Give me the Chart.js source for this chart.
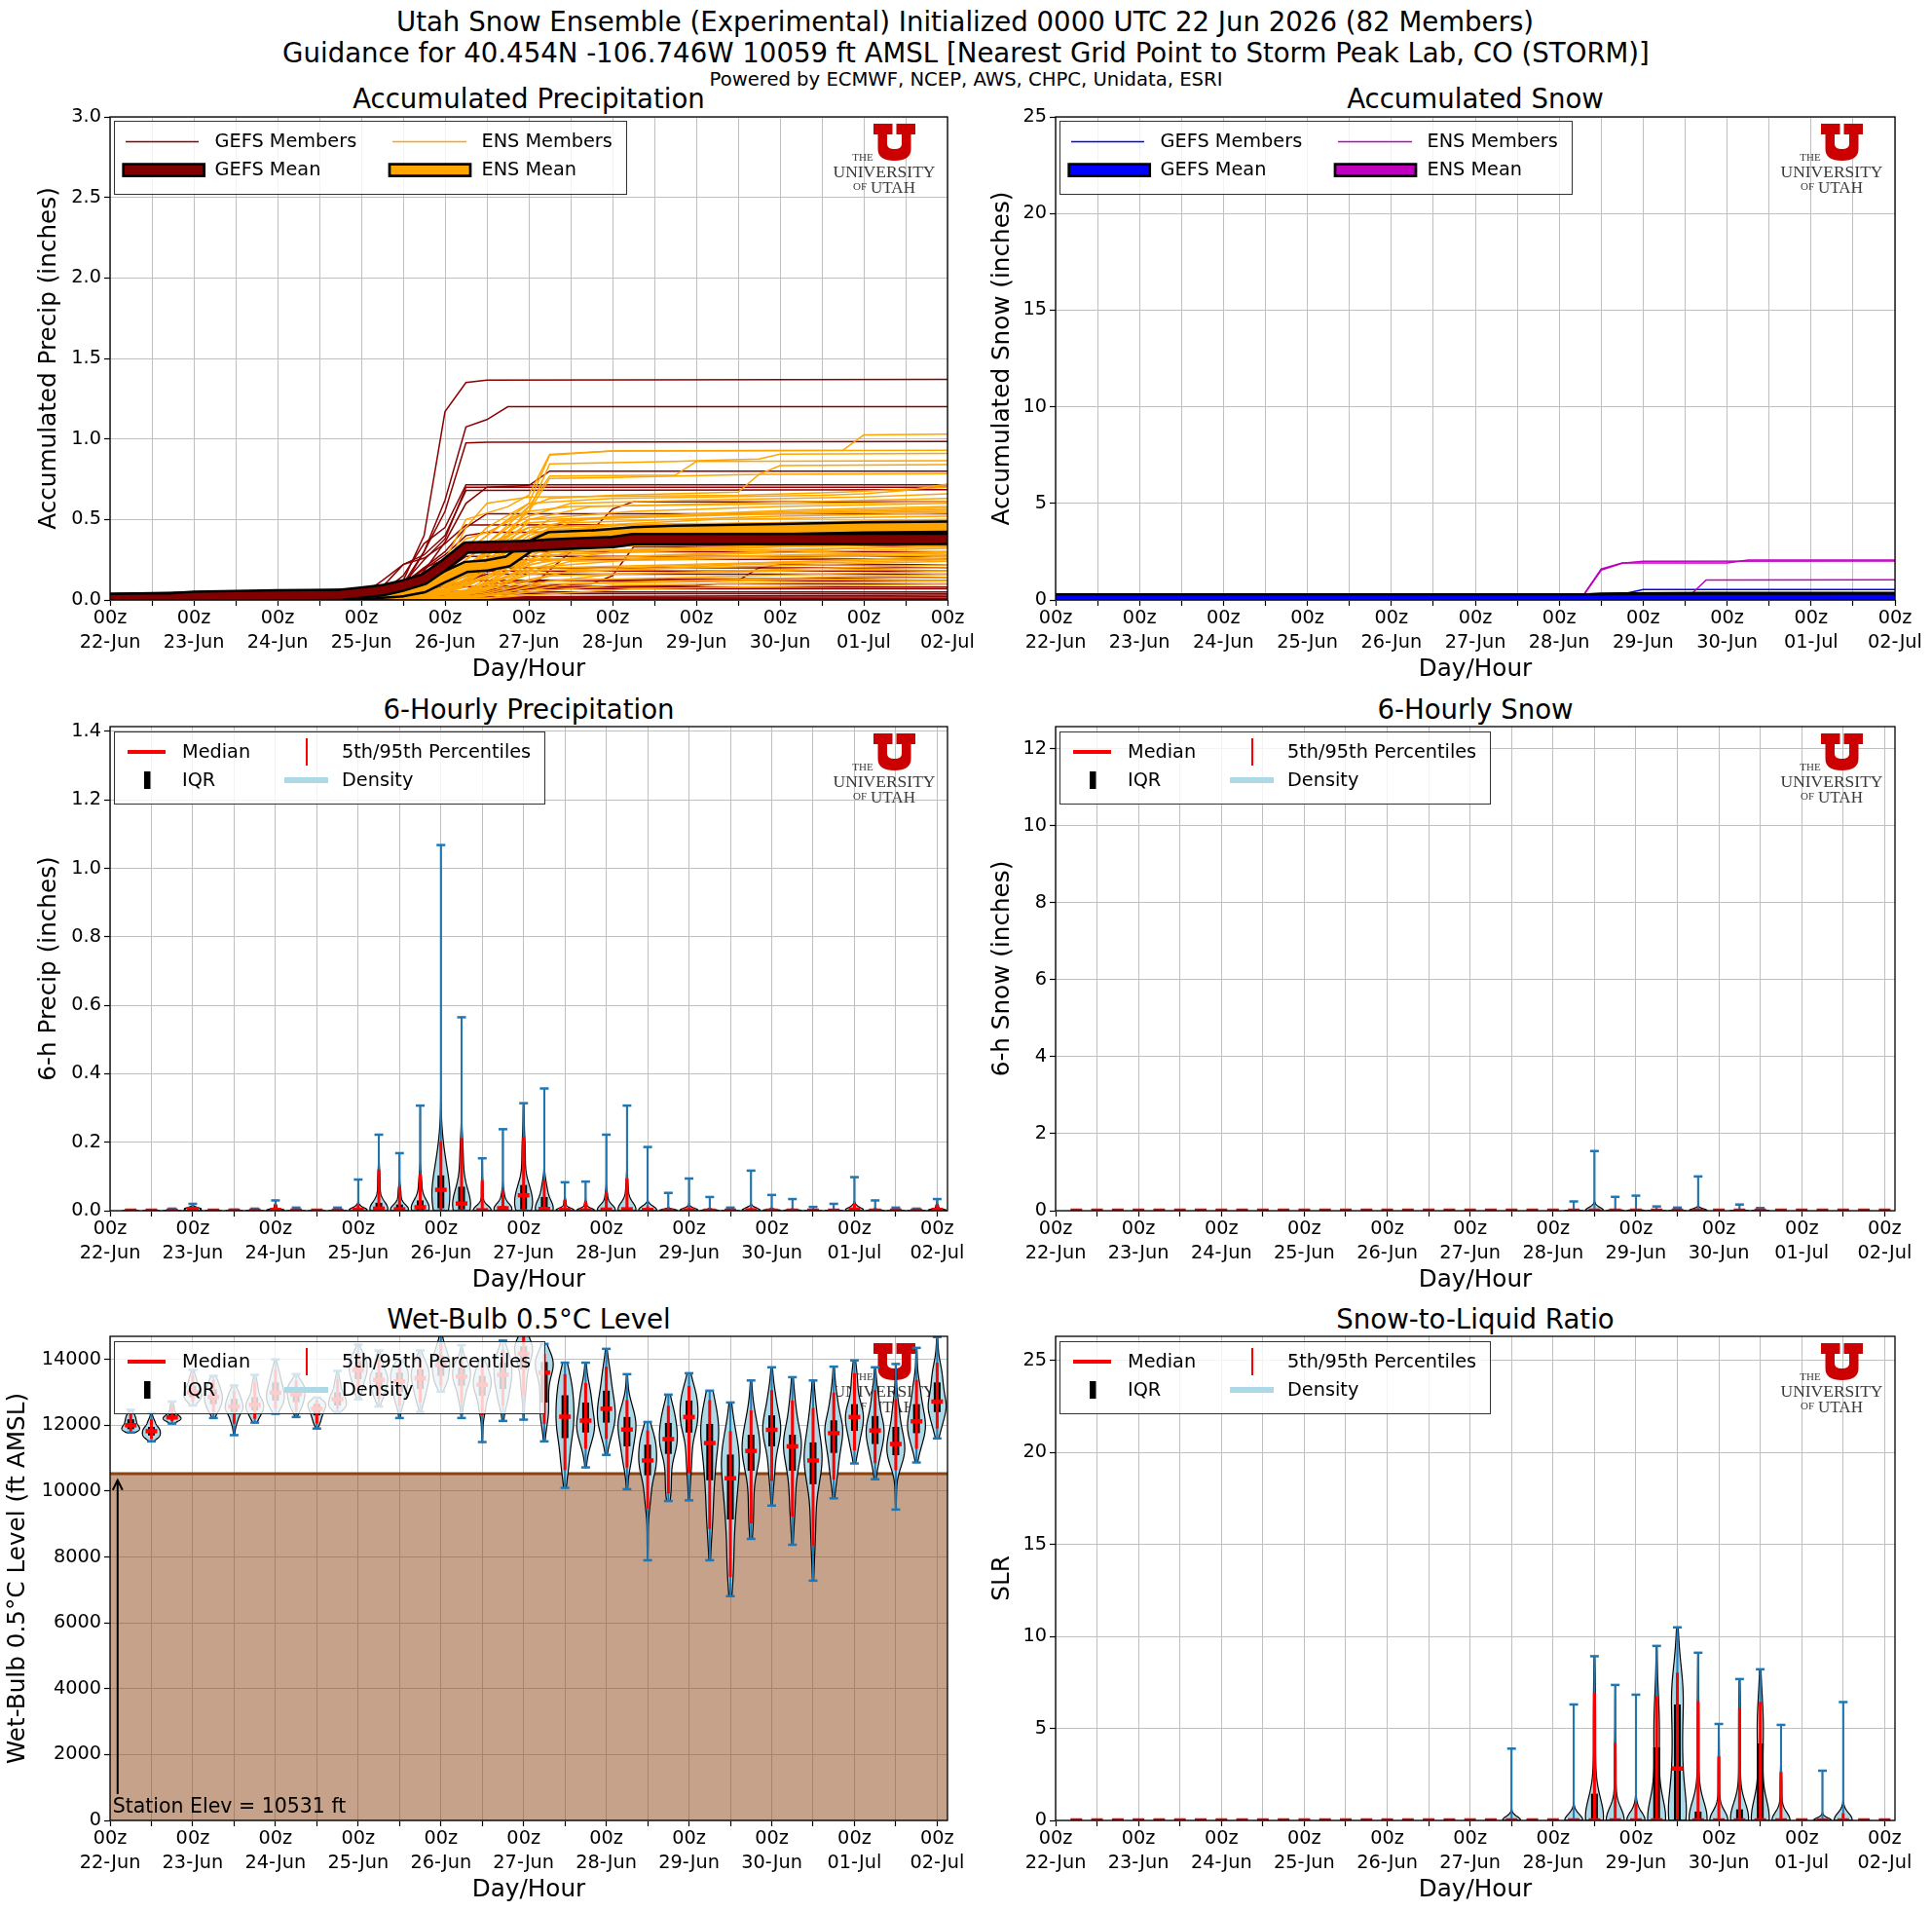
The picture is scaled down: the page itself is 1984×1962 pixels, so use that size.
<!DOCTYPE html>
<html>
<head>
<meta charset="utf-8">
<script src="https://cdn.jsdelivr.net/npm/chart.js"></script>
<style>
body { margin: 0; background: #fff; width: 1984px; height: 1962px; position: relative; overflow: hidden; font-family: 'DejaVu Sans', sans-serif; }
canvas { position: absolute; }
.t { position: absolute; transform: translate(-50%, -50%); white-space: nowrap; color: #000; line-height: 1; }
</style>
</head>
<body>
<div class="t" style="left:991px;top:23px;font-size:27.6px">Utah Snow Ensemble (Experimental) Initialized 0000 UTC 22 Jun 2026 (82 Members)</div>
<div class="t" style="left:992px;top:55px;font-size:27.6px">Guidance for 40.454N -106.746W 10059 ft AMSL [Nearest Grid Point to Storm Peak Lab, CO (STORM)]</div>
<div class="t" style="left:992px;top:82px;font-size:19.6px">Powered by ECMWF, NCEP, AWS, CHPC, Unidata, ESRI</div>
<div class="t" style="left:543px;top:102px;font-size:27.6px">Accumulated Precipitation</div>
<div class="t" style="left:1515px;top:102px;font-size:27.6px">Accumulated Snow</div>
<div class="t" style="left:543px;top:729px;font-size:27.6px">6-Hourly Precipitation</div>
<div class="t" style="left:1515px;top:729px;font-size:27.6px">6-Hourly Snow</div>
<div class="t" style="left:543px;top:1355px;font-size:27.6px">Wet-Bulb 0.5°C Level</div>
<div class="t" style="left:1515px;top:1355px;font-size:27.6px">Snow-to-Liquid Ratio</div>
<script>
var FONT = "'DejaVu Sans', sans-serif";

// x axis: forecast hour from 00z 22-Jun
var hourTicks = [0, 12, 24, 36, 48, 60, 72, 84, 96, 108, 120, 132, 144, 156, 168, 180, 192, 204, 216, 228, 240];
var dayLabels = ['22-Jun', '23-Jun', '24-Jun', '25-Jun', '26-Jun', '27-Jun', '28-Jun', '29-Jun', '30-Jun', '01-Jul', '02-Jul'];
var violinHours = [6, 12, 18, 24, 30, 36, 42, 48, 54, 60, 66, 72, 78, 84, 90, 96, 102, 108, 114, 120,
    126, 132, 138, 144, 150, 156, 162, 168, 174, 180, 186, 192, 198, 204, 210, 216, 222, 228, 234, 240];

// y ticks
var accPrecipTicks = [0, 0.5, 1, 1.5, 2, 2.5, 3];
var accSnowTicks = [0, 5, 10, 15, 20, 25];
var precip6Ticks = [0, 0.2, 0.4, 0.6, 0.8, 1.0, 1.2, 1.4];
var snow6Ticks = [0, 2, 4, 6, 8, 10, 12];
var wetBulbTicks = [0, 2000, 4000, 6000, 8000, 10000, 12000, 14000];
var slrTicks = [0, 5, 10, 15, 20, 25];

var memberCount = 82;
var stationElev = 10531;

// accumulated precip members, [hour, inches]
var gefsPrecipMembers = [
    [[0,0.03],[72,0.03],[78,0.05],[84,0.12],[90,0.4],[96,1.17],[102,1.35],[108,1.365],[240,1.37]],
    [[0,0.03],[72,0.03],[84,0.08],[90,0.3],[96,0.62],[102,1.075],[108,1.12],[114,1.2],[240,1.2]],
    [[0,0.03],[72,0.03],[84,0.1],[90,0.3],[96,0.55],[102,0.975],[108,0.98],[240,0.985]],
    [[0,0.03],[72,0.03],[78,0.05],[84,0.15],[90,0.35],[96,0.45],[102,0.715],[240,0.715]],
    [[0,0.02],[72,0.02],[78,0.04],[84,0.1],[90,0.25],[96,0.38],[102,0.7],[240,0.7]],
    [[0,0.03],[72,0.03],[78,0.08],[84,0.22],[90,0.28],[96,0.4],[102,0.68],[240,0.685]],
    [[0,0.02],[72,0.02],[84,0.06],[90,0.18],[96,0.36],[102,0.6],[108,0.7],[120,0.71],[126,0.8],[240,0.8]],
    [[0,0.03],[72,0.03],[84,0.1],[90,0.2],[96,0.3],[102,0.45],[108,0.536],[240,0.536]],
    [[0,0.02],[72,0.02],[96,0.05],[120,0.07],[132,0.3],[138,0.43],[144,0.565],[150,0.61],[240,0.61]],
    [[0,0.03],[72,0.03],[78,0.12],[84,0.22],[90,0.26],[96,0.35],[102,0.466],[240,0.47]],
    [[0,0.03],[72,0.03],[78,0.06],[84,0.1],[96,0.28],[102,0.4],[108,0.42],[240,0.42]],
    [[0,0.02],[72,0.02],[96,0.08],[126,0.09],[138,0.1],[144,0.15],[150,0.33],[240,0.34]],
    [[0,0.02],[72,0.02],[84,0.05],[90,0.12],[96,0.22],[102,0.3],[240,0.3]],
    [[0,0.02],[78,0.02],[90,0.05],[96,0.18],[102,0.27],[240,0.27]],
    [[0,0.03],[72,0.03],[84,0.05],[96,0.1],[108,0.2],[114,0.25],[240,0.255]],
    [[0,0.02],[78,0.02],[90,0.06],[102,0.12],[180,0.12],[186,0.2],[192,0.22],[240,0.22]],
    [[0,0.02],[78,0.02],[90,0.04],[102,0.15],[114,0.2],[240,0.2]],
    [[0,0.01],[78,0.01],[96,0.05],[102,0.1],[108,0.18],[240,0.18]],
    [[0,0.02],[78,0.02],[96,0.08],[108,0.16],[240,0.16]],
    [[0,0.02],[78,0.02],[96,0.06],[102,0.12],[240,0.14]],
    [[0,0.01],[84,0.01],[102,0.05],[108,0.1],[126,0.12],[240,0.12]],
    [[0,0.01],[84,0.01],[108,0.05],[120,0.08],[168,0.09],[174,0.1],[240,0.1]],
    [[0,0.01],[84,0.01],[102,0.04],[114,0.08],[240,0.08]],
    [[0,0.01],[84,0.01],[108,0.04],[120,0.07],[240,0.07]],
    [[0,0.01],[78,0.01],[96,0.03],[114,0.05],[240,0.05]],
    [[0,0.02],[84,0.02],[102,0.03],[120,0.04],[240,0.04]],
    [[0,0.01],[84,0.01],[108,0.02],[240,0.03]],
    [[0,0.005],[90,0.005],[120,0.015],[240,0.02]],
    [[0,0.005],[240,0.01]],
    [[0,0],[240,0.005]],
    [[0,0.03],[72,0.03],[84,0.09],[90,0.2],[96,0.25],[102,0.33],[114,0.35],[240,0.36]]
];
var ensPrecipMembers = [
    [[0,0.03],[72,0.03],[84,0.06],[96,0.25],[102,0.5],[114,0.58],[120,0.65],[126,0.905],[144,0.925],[210,0.93],[216,1.025],[240,1.03]],
    [[0,0.03],[72,0.03],[84,0.05],[96,0.2],[108,0.45],[120,0.6],[126,0.9],[144,0.925],[240,0.93]],
    [[0,0.02],[78,0.02],[90,0.08],[102,0.3],[114,0.5],[120,0.55],[126,0.845],[162,0.86],[168,0.865],[186,0.875],[192,0.905],[240,0.91]],
    [[0,0.03],[84,0.03],[96,0.15],[108,0.35],[120,0.58],[126,0.77],[162,0.775],[168,0.86],[240,0.865]],
    [[0,0.02],[84,0.02],[96,0.1],[108,0.3],[120,0.55],[126,0.755],[144,0.76],[162,0.77],[186,0.78],[192,0.835],[240,0.84]],
    [[0,0.03],[84,0.03],[96,0.12],[114,0.4],[120,0.58],[126,0.63],[144,0.65],[180,0.67],[186,0.78],[240,0.785]],
    [[0,0.02],[78,0.02],[90,0.1],[102,0.3],[108,0.4],[120,0.6],[144,0.63],[204,0.65],[216,0.66],[228,0.68],[240,0.72]],
    [[0,0.03],[84,0.03],[96,0.2],[102,0.45],[108,0.6],[120,0.64],[180,0.65],[210,0.67],[240,0.7]],
    [[0,0.02],[78,0.02],[90,0.05],[102,0.25],[114,0.45],[120,0.52],[132,0.6],[168,0.62],[216,0.64],[240,0.66]],
    [[0,0.02],[84,0.02],[96,0.1],[108,0.2],[114,0.35],[120,0.5],[138,0.58],[240,0.63]],
    [[0,0.03],[78,0.03],[90,0.12],[96,0.25],[102,0.38],[108,0.42],[120,0.55],[132,0.58],[240,0.61]],
    [[0,0.02],[84,0.02],[96,0.08],[102,0.18],[114,0.42],[120,0.5],[150,0.55],[192,0.58],[240,0.6]],
    [[0,0.02],[84,0.02],[96,0.06],[108,0.3],[120,0.48],[150,0.52],[198,0.56],[240,0.58]],
    [[0,0.02],[78,0.02],[90,0.08],[102,0.2],[114,0.35],[126,0.5],[180,0.54],[240,0.57]],
    [[0,0.02],[84,0.02],[96,0.1],[108,0.25],[120,0.42],[132,0.5],[216,0.55],[240,0.56]],
    [[0,0.03],[90,0.03],[102,0.15],[108,0.3],[120,0.45],[144,0.52],[240,0.55]],
    [[0,0.02],[84,0.02],[96,0.05],[108,0.22],[120,0.4],[132,0.48],[192,0.52],[240,0.54]],
    [[0,0.02],[90,0.02],[102,0.1],[114,0.28],[126,0.45],[174,0.5],[240,0.52]],
    [[0,0.02],[84,0.02],[96,0.08],[102,0.25],[108,0.35],[120,0.45],[240,0.5]],
    [[0,0.02],[84,0.02],[96,0.12],[108,0.28],[120,0.42],[150,0.47],[240,0.49]],
    [[0,0.03],[90,0.03],[102,0.2],[114,0.32],[126,0.44],[240,0.48]],
    [[0,0.02],[84,0.02],[96,0.05],[108,0.18],[120,0.38],[168,0.44],[240,0.47]],
    [[0,0.02],[90,0.02],[102,0.12],[114,0.3],[126,0.4],[204,0.44],[240,0.46]],
    [[0,0.02],[84,0.02],[96,0.1],[108,0.25],[120,0.35],[144,0.42],[240,0.45]],
    [[0,0.02],[90,0.02],[102,0.08],[114,0.22],[120,0.33],[156,0.4],[240,0.44]],
    [[0,0.02],[84,0.02],[96,0.06],[108,0.2],[126,0.36],[240,0.43]],
    [[0,0.02],[90,0.02],[102,0.15],[114,0.25],[132,0.36],[240,0.42]],
    [[0,0.03],[84,0.03],[96,0.1],[108,0.22],[120,0.3],[180,0.38],[240,0.41]],
    [[0,0.02],[90,0.02],[102,0.06],[114,0.2],[126,0.33],[240,0.4]],
    [[0,0.02],[84,0.02],[96,0.08],[108,0.18],[120,0.3],[168,0.36],[240,0.39]],
    [[0,0.02],[96,0.02],[108,0.1],[120,0.25],[132,0.33],[240,0.38]],
    [[0,0.02],[84,0.02],[96,0.04],[108,0.15],[126,0.3],[240,0.37]],
    [[0,0.02],[90,0.02],[102,0.1],[114,0.2],[132,0.3],[240,0.36]],
    [[0,0.02],[90,0.02],[102,0.05],[114,0.18],[126,0.28],[192,0.33],[240,0.35]],
    [[0,0.02],[84,0.02],[96,0.06],[108,0.15],[120,0.25],[240,0.34]],
    [[0,0.02],[96,0.02],[108,0.08],[120,0.22],[144,0.3],[240,0.33]],
    [[0,0.02],[90,0.02],[102,0.06],[114,0.15],[132,0.26],[240,0.32]],
    [[0,0.02],[84,0.02],[96,0.05],[114,0.18],[126,0.25],[240,0.3]],
    [[0,0.02],[96,0.02],[108,0.1],[120,0.2],[156,0.26],[240,0.29]],
    [[0,0.02],[90,0.02],[102,0.05],[114,0.14],[132,0.24],[240,0.28]],
    [[0,0.02],[96,0.02],[108,0.07],[120,0.18],[240,0.27]],
    [[0,0.01],[90,0.01],[102,0.04],[114,0.12],[126,0.2],[240,0.26]],
    [[0,0.02],[96,0.02],[108,0.06],[120,0.16],[180,0.22],[240,0.25]],
    [[0,0.01],[90,0.01],[102,0.03],[114,0.1],[132,0.18],[240,0.24]],
    [[0,0.02],[96,0.02],[108,0.05],[126,0.15],[240,0.22]],
    [[0,0.01],[96,0.01],[108,0.04],[120,0.1],[144,0.16],[240,0.2]],
    [[0,0.01],[102,0.01],[114,0.05],[126,0.12],[240,0.18]],
    [[0,0.01],[96,0.01],[108,0.03],[126,0.1],[240,0.16]],
    [[0,0.01],[102,0.01],[114,0.04],[132,0.1],[240,0.14]],
    [[0,0.01],[108,0.01],[120,0.05],[144,0.09],[240,0.12]],
    [[0,0.01],[108,0.01],[120,0.03],[150,0.07],[240,0.1]]
];
var gefsPrecipMean = [[0,0.006],[18,0.01],[24,0.02],[48,0.028],[66,0.032],[72,0.045],[78,0.06],[84,0.09],[90,0.13],[96,0.22],[102,0.325],[120,0.335],[126,0.345],[144,0.36],[150,0.378],[240,0.38]];
var ensPrecipMean = [[0,0.006],[24,0.015],[48,0.022],[72,0.035],[78,0.045],[84,0.055],[90,0.08],[96,0.145],[102,0.205],[108,0.215],[114,0.24],[120,0.33],[126,0.39],[138,0.4],[150,0.42],[162,0.43],[192,0.44],[216,0.45],[240,0.455]];

// accumulated snow
var gefsSnowMembers = [
    [[0,0],[240,0]],
    [[0,0],[156,0],[168,0.2],[240,0.25]],
    [[0,0],[150,0],[162,0.3],[168,0.54],[240,0.54]]
];
var ensSnowMembers = [
    [[0,0],[240,0]],
    [[0,0],[150,0],[156,1.6],[162,1.92],[192,1.92],[198,2.07],[240,2.07]],
    [[0,0],[150,0],[156,1.55],[162,1.9],[168,2.0],[240,2.01]],
    [[0,0],[180,0],[186,1.03],[240,1.04]]
];
var gefsSnowMean = [[0,0.02],[150,0.02],[162,0.04],[168,0.05],[240,0.06]];
var ensSnowMean = [[0,0],[150,0],[156,0.06],[162,0.08],[186,0.1],[240,0.1]];

// violin stats per 6 h step: [min, p5, q1, median, q3, p95, max]
var precip6Stats = [
    [0,0,0,0,0,0,0.002], [0,0,0,0,0,0,0.002], [0,0,0,0,0,0.002,0.006], [0,0,0,0.005,0.007,0.012,0.02],
    [0,0,0,0,0,0,0.002], [0,0,0,0,0,0,0.003], [0,0,0,0,0,0.002,0.006], [0,0,0,0.002,0.004,0.018,0.03],
    [0,0,0,0,0,0.003,0.009], [0,0,0,0,0,0,0.002], [0,0,0,0,0,0.003,0.009], [0,0,0,0.003,0.006,0.018,0.091],
    [0,0,0,0.006,0.023,0.12,0.222], [0,0,0,0.004,0.018,0.07,0.168], [0,0,0,0.01,0.03,0.108,0.307], [0,0,0.007,0.061,0.103,0.203,1.068],
    [0,0,0.004,0.021,0.07,0.212,0.565], [0,0,0,0.001,0.003,0.089,0.153], [0,0,0,0.007,0.013,0.059,0.238], [0,0,0.004,0.045,0.075,0.215,0.314],
    [0,0,0,0.005,0.04,0.089,0.357], [0,0,0,0.002,0.004,0.032,0.083], [0,0,0,0.001,0.003,0.026,0.085], [0,0,0,0.003,0.006,0.056,0.222],
    [0,0,0,0.004,0.008,0.094,0.307], [0,0,0,0.002,0.004,0.013,0.186], [0,0,0,0,0.002,0.006,0.052], [0,0,0,0.001,0.003,0.01,0.094],
    [0,0,0,0,0.001,0.005,0.04], [0,0,0,0,0,0.002,0.009], [0,0,0,0.001,0.002,0.009,0.117], [0,0,0,0,0.001,0.004,0.046],
    [0,0,0,0,0.001,0.004,0.034], [0,0,0,0,0,0.002,0.011], [0,0,0,0,0,0.004,0.02], [0,0,0,0.003,0.006,0.02,0.098],
    [0,0,0,0,0.001,0.005,0.03], [0,0,0,0,0,0.002,0.009], [0,0,0,0,0,0.002,0.006], [0,0,0,0.002,0.005,0.018,0.034]
];
var snow6Stats = [
    [0,0,0,0,0,0,0], [0,0,0,0,0,0,0], [0,0,0,0,0,0,0], [0,0,0,0,0,0,0], [0,0,0,0,0,0,0],
    [0,0,0,0,0,0,0], [0,0,0,0,0,0,0], [0,0,0,0,0,0,0], [0,0,0,0,0,0,0], [0,0,0,0,0,0,0],
    [0,0,0,0,0,0,0], [0,0,0,0,0,0,0], [0,0,0,0,0,0,0], [0,0,0,0,0,0,0], [0,0,0,0,0,0,0],
    [0,0,0,0,0,0,0], [0,0,0,0,0,0,0], [0,0,0,0,0,0,0], [0,0,0,0,0,0,0], [0,0,0,0,0,0,0],
    [0,0,0,0,0,0,0], [0,0,0,0,0,0,0], [0,0,0,0,0,0,0], [0,0,0,0,0,0,0],
    [0,0,0,0,0,0,0.24], [0,0,0,0,0,0.05,1.55], [0,0,0,0,0,0,0.36], [0,0,0,0,0,0,0.39],
    [0,0,0,0,0,0,0.11], [0,0,0,0,0,0,0.08], [0,0,0,0,0,0.02,0.89], [0,0,0,0,0,0,0],
    [0,0,0,0,0,0,0.16], [0,0,0,0,0,0,0.07], [0,0,0,0,0,0,0], [0,0,0,0,0,0,0],
    [0,0,0,0,0,0,0], [0,0,0,0,0,0,0], [0,0,0,0,0,0,0], [0,0,0,0,0,0,0]
];
var wetBulbStats = [
    [11780,11820,11880,12000,12180,12350,12470], [11510,11590,11690,11820,11950,12180,12370],
    [12050,12120,12180,12240,12350,12610,12720], [12600,12700,12850,13000,13200,13500,13680],
    [12220,12400,12640,12860,13090,13380,13500], [11700,12050,12400,12570,12800,13050,13210],
    [12080,12200,12450,12620,12850,13300,13530], [12350,12500,12750,12990,13300,13700,14000],
    [12250,12450,12700,12940,13150,13350,13550], [11900,12050,12300,12500,12650,12750,12840],
    [12400,12500,12600,12790,13000,13400,13650], [12790,13000,13400,13680,13950,14200,14450],
    [12570,12800,13100,13380,13600,14000,14270], [12220,12600,13000,13330,13600,13850,13970],
    [12400,12700,13100,13430,13700,14000,14270], [13020,13200,13500,13830,14100,14500,14900],
    [12220,12700,13200,13480,13750,14000,14430], [11490,12300,12900,13230,13500,13850,14000],
    [12130,12600,13100,13530,13900,14300,14570], [12170,12900,13700,14170,14400,14700,14900],
    [11510,12050,12690,13600,13920,14170,14470], [10100,10640,11610,12260,12910,13550,13900],
    [10720,11290,11780,12140,12690,13280,13900], [11100,11590,12080,12500,13050,13780,14320],
    [10060,10720,11360,11870,12250,12760,13550], [7900,9470,10480,10930,11410,11840,12100],
    [9700,9930,11130,11580,12070,12590,12930], [9720,10540,11780,12250,12750,13190,13580],
    [7900,8850,10330,11460,12040,12760,13050], [6810,7390,9140,10390,11110,11820,12690],
    [8550,9020,10620,11220,11710,12450,13360], [9560,10310,11360,11860,12300,13070,13760],
    [8370,9220,10620,11360,11710,12750,13460], [7280,8350,10210,10930,11480,12520,13360],
    [9780,10350,11160,11760,12150,12990,13780], [10840,11240,11830,12250,12640,13580,13970],
    [10360,10850,11430,11840,12280,13070,13760], [9440,10640,11090,11430,11950,12790,13860],
    [10870,11290,11760,12120,12640,13380,14350], [11600,11900,12400,12720,13300,13900,14680]
];
var slrStats = [
    [0,0,0,0,0,0,0], [0,0,0,0,0,0,0], [0,0,0,0,0,0,0], [0,0,0,0,0,0,0], [0,0,0,0,0,0,0],
    [0,0,0,0,0,0,0], [0,0,0,0,0,0,0], [0,0,0,0,0,0,0], [0,0,0,0,0,0,0], [0,0,0,0,0,0,0],
    [0,0,0,0,0,0,0], [0,0,0,0,0,0,0], [0,0,0,0,0,0,0], [0,0,0,0,0,0,0], [0,0,0,0,0,0,0],
    [0,0,0,0,0,0,0], [0,0,0,0,0,0,0], [0,0,0,0,0,0,0], [0,0,0,0,0,0,0], [0,0,0,0,0,0,0],
    [0,0,0,0,0,0,0], [0,0,0,0,0,0.1,3.9], [0,0,0,0,0,0,0], [0,0,0,0,0,0,0],
    [0,0,0,0,0,0.1,6.3], [0,0,0,0,1.45,6.92,8.92], [0,0,0,0,0,4.22,7.36], [0,0,0,0,0,0.92,6.83],
    [0,0,0,0,3.97,6.74,9.48], [0,0,0,2.82,6.3,8.03,10.49], [0,0,0,0,0.48,6.48,9.11], [0,0,0,0,0,3.48,5.24],
    [0,0,0,0,0.6,6.09,7.68], [0,0,0,0,4.18,6.44,8.21], [0,0,0,0,0,2.63,5.19], [0,0,0,0,0,0,0],
    [0,0,0,0,0,0,2.7], [0,0,0,0,0,0.39,6.43], [0,0,0,0,0,0,0], [0,0,0,0,0,0,0]
];

// panel boxes on the page (plot area) and y axis band width
var panels = {
    accPrecip: {left: 113, top: 120, w: 860, h: 496, axisW: 77},
    accSnow: {left: 1084, top: 120, w: 862, h: 496, axisW: 69},
    precip6: {left: 113, top: 746, w: 860, h: 497, axisW: 77},
    snow6: {left: 1084, top: 746, w: 862, h: 497, axisW: 69},
    wetBulb: {left: 113, top: 1372, w: 860, h: 497, axisW: 109},
    slr: {left: 1084, top: 1372, w: 862, h: 497, axisW: 69}
};
var violinHalfWidth = 2.6;   // hours
var quantileMass = [0.05, 0.2, 0.25, 0.25, 0.2, 0.05];
var decorCfg = {};

function makeCanvas(id, p) {
    var c = document.createElement('canvas');
    c.id = id;
    c.width = p.axisW + p.w + 40;
    c.height = 40 + p.h + 86;
    c.style.width = c.width + 'px';
    c.style.height = c.height + 'px';
    c.style.left = (p.left - p.axisW) + 'px';
    c.style.top = (p.top - 40) + 'px';
    document.body.appendChild(c);
    return c;
}

function chartOptions(p, xMax, yMax, yTicks, yDigits, yTitle) {
    var tickFont = {family: FONT, size: 19.3, lineHeight: 1.3};
    var grid = {color: '#c0c0c0', lineWidth: 1, tickColor: '#000', tickLength: 6, tickWidth: 1.2, offset: false};
    return {
        responsive: false, animation: false, devicePixelRatio: 1, events: [],
        layout: {padding: {left: 0, top: 40, right: 40, bottom: 0}},
        plugins: {legend: {display: false}, tooltip: {enabled: false}},
        scales: {
            x: {
                type: 'linear', min: 0, max: xMax, offset: false,
                afterBuildTicks: function(s) { s.ticks = hourTicks.map(function(v) { return {value: v}; }); },
                afterFit: function(s) { s.height = 86; },
                ticks: {autoSkip: false, maxRotation: 0, minRotation: 0, color: '#000', font: tickFont, padding: 0,
                    callback: function(v) { return v % 24 === 0 ? ['00z', dayLabels[v / 24]] : ''; }},
                grid: grid,
                border: {display: false},
                title: {display: true, text: 'Day/Hour', color: '#000', font: {family: FONT, size: 24.7}, padding: 0}
            },
            y: {
                type: 'linear', min: 0, max: yMax, offset: false,
                afterBuildTicks: function(s) { s.ticks = yTicks.map(function(v) { return {value: v}; }); },
                afterFit: function(s) { s.width = p.axisW; },
                ticks: {color: '#000', font: tickFont, padding: 3,
                    callback: function(v) { return v.toFixed(yDigits); }},
                grid: grid,
                border: {display: false},
                title: {display: true, text: yTitle, color: '#000', font: {family: FONT, size: 24.7}, padding: 0}
            }
        }
    };
}

function pts(arr) {
    return arr.map(function(p) { return {x: p[0], y: p[1]}; });
}

function memberDatasets(members, color, order) {
    return members.map(function(m) {
        return {type: 'line', data: pts(m), borderColor: color, borderWidth: 1.5, pointRadius: 0,
            fill: false, tension: 0, order: order, clip: 0};
    });
}

function meanDatasets(mean, color, order) {
    return [
        {type: 'line', data: pts(mean), borderColor: '#000', borderWidth: 13, pointRadius: 0, fill: false,
            tension: 0, order: order + 1, clip: 0, borderJoinStyle: 'round'},
        {type: 'line', data: pts(mean), borderColor: color, borderWidth: 8, pointRadius: 0, fill: false,
            tension: 0, order: order, clip: 0, borderJoinStyle: 'round'}
    ];
}

function violinDatasets(stats) {
    var med = [], caps = [], iqr = [], pct = [], ext = [];
    stats.forEach(function(q, i) {
        var h = violinHours[i];
        med.push({x: h, y: q[3]});
        caps.push({x: h, y: q[0]}, {x: h, y: q[6]});
        iqr.push({x: h, y: [q[2], q[4]]});
        pct.push({x: h, y: [q[1], q[5]]});
        ext.push({x: h, y: [q[0], q[6]]});
    });
    return [
        {type: 'scatter', data: med, pointStyle: 'line', pointRadius: 6, pointBorderWidth: 4.5, borderWidth: 4.5,
            pointBorderColor: '#ff0000', borderColor: '#ff0000', order: 0, clip: 0},
        {type: 'bar', data: pct, backgroundColor: '#ff0000', maxBarThickness: 3, grouped: false, order: 1, clip: 0},
        {type: 'bar', data: iqr, backgroundColor: '#000000', maxBarThickness: 7, grouped: false, order: 2, clip: 0},
        {type: 'scatter', data: caps, pointStyle: 'line', pointRadius: 4.5, pointBorderWidth: 2.5, borderWidth: 2.5,
            pointBorderColor: '#1f77b4', borderColor: '#1f77b4', order: 3, clip: 0},
        {type: 'bar', data: ext, backgroundColor: '#1f77b4', maxBarThickness: 2, grouped: false, order: 4, clip: 0}
    ];
}

function erf(x) {
    var s = x < 0 ? -1 : 1;
    x = Math.abs(x);
    var t = 1 / (1 + 0.3275911 * x);
    var y = 1 - (((((1.061405429 * t - 1.453152027) * t) + 1.421413741) * t - 0.284496736) * t + 0.254829592) * t * Math.exp(-x * x);
    return s * y;
}
function phi(z) { return 0.5 * (1 + erf(z / Math.SQRT2)); }

// gaussian kde (scott) of the quantile-piecewise distribution, scaled to 1 at its peak
function kdeProfile(q) {
    var mean = 0, m2 = 0, k;
    for (k = 0; k < 6; k++) {
        mean += quantileMass[k] * (q[k] + q[k + 1]) / 2;
        m2 += quantileMass[k] * (q[k] * q[k] + q[k] * q[k + 1] + q[k + 1] * q[k + 1]) / 3;
    }
    var bw = Math.sqrt(Math.max(m2 - mean * mean, 0)) * Math.pow(memberCount, -0.2);
    if (!(bw > 0)) bw = (q[6] - q[0]) / 10;
    var out = [], top = 0;
    for (var i = 0; i <= 80; i++) {
        var x = q[0] + (q[6] - q[0]) * i / 80, d = 0;
        for (k = 0; k < 6; k++) {
            var a = q[k], b = q[k + 1], m = quantileMass[k];
            if (b - a < bw * 0.01) d += m * Math.exp(-0.5 * Math.pow((x - a) / bw, 2)) / (bw * 2.5066);
            else d += m * (phi((x - a) / bw) - phi((x - b) / bw)) / (b - a);
        }
        out.push([x, d]);
        top = Math.max(top, d);
    }
    out.forEach(function(p) { p[1] /= top; });
    return out;
}

function drawBodies(chart, stats) {
    var xs = chart.scales.x, ys = chart.scales.y, ctx = chart.ctx, a = chart.chartArea;
    var half = xs.getPixelForValue(violinHalfWidth) - xs.getPixelForValue(0);
    ctx.save();
    ctx.beginPath();
    ctx.rect(a.left, a.top, a.right - a.left, a.bottom - a.top);
    ctx.clip();
    ctx.fillStyle = '#add8e6';
    ctx.strokeStyle = '#000';
    ctx.lineWidth = 1.2;
    stats.forEach(function(q, i) {
        if (q[6] <= q[0]) return;
        var prof = kdeProfile(q);
        var cx = xs.getPixelForValue(violinHours[i]);
        ctx.beginPath();
        prof.forEach(function(p, k) {
            var px = cx + p[1] * half, py = ys.getPixelForValue(p[0]);
            if (k) ctx.lineTo(px, py); else ctx.moveTo(px, py);
        });
        for (var k = prof.length - 1; k >= 0; k--) {
            ctx.lineTo(cx - prof[k][1] * half, ys.getPixelForValue(prof[k][0]));
        }
        ctx.closePath();
        ctx.fill();
        ctx.stroke();
    });
    ctx.restore();
}

function drawLogo(ctx, a) {
    var x = a.right - 76, y = a.top + 7;
    ctx.save();
    ctx.fillStyle = '#cc0000';
    ctx.beginPath();
    ctx.moveTo(x, y);
    ctx.lineTo(x + 19.5, y); ctx.lineTo(x + 19.5, y + 11); ctx.lineTo(x + 14, y + 11); ctx.lineTo(x + 14, y + 21);
    ctx.quadraticCurveTo(x + 14, y + 26, x + 21.5, y + 26);
    ctx.quadraticCurveTo(x + 29, y + 26, x + 29, y + 21);
    ctx.lineTo(x + 29, y + 11); ctx.lineTo(x + 23.5, y + 11); ctx.lineTo(x + 23.5, y); ctx.lineTo(x + 43, y);
    ctx.lineTo(x + 43, y + 11); ctx.lineTo(x + 38.5, y + 11); ctx.lineTo(x + 38.5, y + 26);
    ctx.quadraticCurveTo(x + 38.5, y + 38, x + 21.5, y + 38);
    ctx.quadraticCurveTo(x + 4.5, y + 38, x + 4.5, y + 26);
    ctx.lineTo(x + 4.5, y + 11); ctx.lineTo(x, y + 11);
    ctx.closePath();
    ctx.fill();
    ctx.fillStyle = '#3a3a3a';
    ctx.textAlign = 'center';
    ctx.textBaseline = 'middle';
    ctx.font = "11px 'Liberation Serif'";
    ctx.fillText('THE', a.right - 87, a.top + 42);
    ctx.font = "17.5px 'Liberation Serif'";
    ctx.fillText('UNIVERSITY', a.right - 65, a.top + 57);
    ctx.font = "11px 'Liberation Serif'";
    ctx.fillText('OF', a.right - 90, a.top + 72);
    ctx.font = "17px 'Liberation Serif'";
    ctx.fillText('UTAH', a.right - 56, a.top + 73.5);
    ctx.restore();
}

function legendBox(ctx, L, T, w, h) {
    ctx.fillStyle = 'rgba(255,255,255,0.8)';
    ctx.fillRect(L, T, w, h);
    ctx.strokeStyle = '#333';
    ctx.lineWidth = 1;
    ctx.strokeRect(L + 0.5, T + 0.5, w, h);
}

function memberLegend(ctx, a, colors) {
    var L = a.left, T = a.top;
    ctx.save();
    legendBox(ctx, L + 4, T + 4, 526, 75);
    ctx.lineWidth = 1.5;
    [[L + 16, L + 91, colors[0]], [L + 290, L + 366, colors[1]]].forEach(function(s) {
        ctx.strokeStyle = s[2];
        ctx.beginPath(); ctx.moveTo(s[0], T + 25.5); ctx.lineTo(s[1], T + 25.5); ctx.stroke();
    });
    [[L + 13.7, colors[2]], [L + 287, colors[3]]].forEach(function(s) {
        ctx.fillStyle = s[1];
        ctx.fillRect(s[0], T + 48.6, 83, 12);
        ctx.strokeStyle = '#000'; ctx.lineWidth = 2.7;
        ctx.strokeRect(s[0], T + 48.6, 83, 12);
    });
    ctx.fillStyle = '#000';
    ctx.font = '19.3px ' + FONT;
    ctx.textBaseline = 'middle';
    ctx.fillText('GEFS Members', L + 107.6, T + 26);
    ctx.fillText('ENS Members', L + 381.5, T + 26);
    ctx.fillText('GEFS Mean', L + 107.6, T + 55);
    ctx.fillText('ENS Mean', L + 381.5, T + 55);
    ctx.restore();
}

function violinLegend(ctx, a) {
    var L = a.left, T = a.top;
    ctx.save();
    legendBox(ctx, L + 4, T + 5, 442, 74);
    ctx.strokeStyle = '#ff0000'; ctx.lineWidth = 4;
    ctx.beginPath(); ctx.moveTo(L + 18, T + 26); ctx.lineTo(L + 57, T + 26); ctx.stroke();
    ctx.lineWidth = 2;
    ctx.beginPath(); ctx.moveTo(L + 202, T + 12); ctx.lineTo(L + 202, T + 40); ctx.stroke();
    ctx.fillStyle = '#000';
    ctx.fillRect(L + 35, T + 46, 6.5, 18);
    ctx.strokeStyle = '#add8e6'; ctx.lineWidth = 6;
    ctx.beginPath(); ctx.moveTo(L + 179, T + 55); ctx.lineTo(L + 224, T + 55); ctx.stroke();
    ctx.font = '19.3px ' + FONT;
    ctx.textBaseline = 'middle';
    ctx.fillText('Median', L + 74, T + 26.5);
    ctx.fillText('5th/95th Percentiles', L + 238, T + 26.5);
    ctx.fillText('IQR', L + 74, T + 55.5);
    ctx.fillText('Density', L + 238, T + 55.5);
    ctx.restore();
}

function drawStation(chart) {
    var xs = chart.scales.x, ys = chart.scales.y, ctx = chart.ctx;
    var x = xs.getPixelForValue(2.2), y0 = ys.getPixelForValue(800), y1 = ys.getPixelForValue(stationElev - 200);
    ctx.save();
    ctx.strokeStyle = '#000';
    ctx.lineWidth = 2;
    ctx.beginPath(); ctx.moveTo(x, y0); ctx.lineTo(x, y1); ctx.stroke();
    ctx.beginPath(); ctx.moveTo(x - 5, y1 + 10); ctx.lineTo(x, y1); ctx.lineTo(x + 5, y1 + 10); ctx.stroke();
    ctx.fillStyle = '#000';
    ctx.font = '20.5px ' + FONT;
    ctx.textBaseline = 'middle';
    ctx.fillText('Station Elev = ' + stationElev + ' ft', xs.getPixelForValue(0.75), ys.getPixelForValue(390));
    ctx.restore();
}

var decor = {
    id: 'decor',
    beforeDatasetsDraw: function(chart) {
        var cfg = decorCfg[chart.canvas.id];
        drawLogo(chart.ctx, chart.chartArea);
        if (cfg.stats && !cfg.ground) drawBodies(chart, cfg.stats);
    },
    afterDatasetDraw: function(chart, args) {
        var cfg = decorCfg[chart.canvas.id];
        if (cfg.stats && cfg.ground && chart.data.datasets[args.index].ground) drawBodies(chart, cfg.stats);
    },
    afterDatasetsDraw: function(chart) {
        var cfg = decorCfg[chart.canvas.id], a = chart.chartArea, ctx = chart.ctx;
        if (cfg.ground) drawStation(chart);
        ctx.save();
        ctx.strokeStyle = '#000';
        ctx.lineWidth = 1.3;
        ctx.strokeRect(a.left, a.top, a.right - a.left, a.bottom - a.top);
        ctx.restore();
        if (cfg.stats) violinLegend(ctx, a);
        else memberLegend(ctx, a, cfg.colors);
    }
};

// top row: accumulated members
decorCfg.c1 = {colors: ['#8b0000', '#ffa500', '#800000', '#ffa500']};
new Chart(makeCanvas('c1', panels.accPrecip), {
    type: 'line',
    data: {datasets: [].concat(
        meanDatasets(gefsPrecipMean, '#800000', 3),
        meanDatasets(ensPrecipMean, '#ffa500', 5),
        memberDatasets(ensPrecipMembers, '#ffa500', 20),
        memberDatasets(gefsPrecipMembers, '#8b0000', 21))},
    options: chartOptions(panels.accPrecip, 240, 3.0, accPrecipTicks, 1, 'Accumulated Precip (inches)'),
    plugins: [decor]
});

decorCfg.c2 = {colors: ['#0000ff', '#bf00bf', '#0000ff', '#bf00bf']};
new Chart(makeCanvas('c2', panels.accSnow), {
    type: 'line',
    data: {datasets: [].concat(
        meanDatasets(gefsSnowMean, '#0000ff', 3),
        meanDatasets(ensSnowMean, '#bf00bf', 5),
        memberDatasets(ensSnowMembers, '#bf00bf', 20),
        memberDatasets(gefsSnowMembers, '#0000ff', 21))},
    options: chartOptions(panels.accSnow, 240, 25, accSnowTicks, 0, 'Accumulated Snow (inches)'),
    plugins: [decor]
});

// violin panels
decorCfg.c3 = {stats: precip6Stats};
new Chart(makeCanvas('c3', panels.precip6), {
    type: 'scatter',
    data: {datasets: violinDatasets(precip6Stats)},
    options: chartOptions(panels.precip6, 243, 1.414, precip6Ticks, 1, '6-h Precip (inches)'),
    plugins: [decor]
});

decorCfg.c4 = {stats: snow6Stats};
new Chart(makeCanvas('c4', panels.snow6), {
    type: 'scatter',
    data: {datasets: violinDatasets(snow6Stats)},
    options: chartOptions(panels.snow6, 243, 12.58, snow6Ticks, 0, '6-h Snow (inches)'),
    plugins: [decor]
});

decorCfg.c5 = {stats: wetBulbStats, ground: true};
new Chart(makeCanvas('c5', panels.wetBulb), {
    type: 'scatter',
    data: {datasets: violinDatasets(wetBulbStats).concat([{
        type: 'line', ground: true, data: [{x: 0, y: stationElev}, {x: 243, y: stationElev}],
        borderColor: '#8b4513', borderWidth: 3, backgroundColor: 'rgba(139,69,19,0.5)', fill: 'origin',
        pointRadius: 0, order: 10, clip: 0}])},
    options: chartOptions(panels.wetBulb, 243, 14700, wetBulbTicks, 0, 'Wet-Bulb 0.5°C Level (ft AMSL)'),
    plugins: [decor]
});

decorCfg.c6 = {stats: slrStats};
new Chart(makeCanvas('c6', panels.slr), {
    type: 'scatter',
    data: {datasets: violinDatasets(slrStats)},
    options: chartOptions(panels.slr, 243, 26.3, slrTicks, 0, 'SLR'),
    plugins: [decor]
});
</script>
</body>
</html>
